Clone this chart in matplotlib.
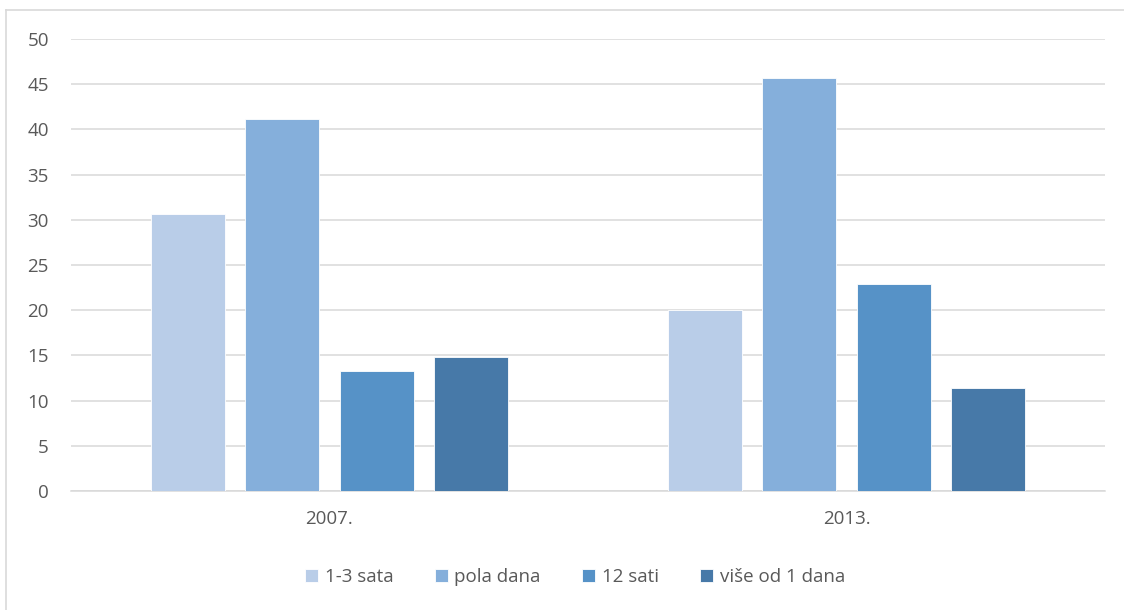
import matplotlib
matplotlib.use("Agg")
import matplotlib.pyplot as plt
import numpy as np
from matplotlib.lines import Line2D

categories = ["2007.", "2013."]
series_names = ["1-3 sata", "pola dana", "12 sati", "više od 1 dana"]
v_13_sata = [30.6, 20.0]
v_pola_dana = [41.1, 45.7]
v_12_sati = [13.3, 22.9]
v_vise = [14.8, 11.4]
yticks = [0, 5, 10, 15, 20, 25, 30, 35, 40, 45, 50]

series = [v_13_sata, v_pola_dana, v_12_sati, v_vise]
colors = ["#B9CDE8", "#85AFDB", "#5692C7", "#4779A8"]

plt.rcParams['font.family'] = ['Open Sans', 'DejaVu Sans']
txt = "#595959"

fig = plt.figure(figsize=(11.24, 6.10), dpi=100)
W, H = 1124, 610
ax = fig.add_axes([71 / W, (H - 491) / H, (1105 - 71) / W, (491 - 39) / H])

x = np.arange(len(categories))
width = 0.143
step = 0.182
for i, (vals, c, name) in enumerate(zip(series, colors, series_names)):
    ax.bar(x + (i - 1.5) * step, vals, width, color=c, label=name,
           edgecolor="white", linewidth=0.6, zorder=3)

ax.set_xlim(-0.5, 1.5)
ax.set_ylim(0, 50)
ax.set_yticks(yticks)
ax.set_xticks(x)
ax.set_xticklabels(categories)
ax.grid(axis="y", color="#D9D9D9", linewidth=1.1, zorder=0)
for s in ["top", "right", "left"]:
    ax.spines[s].set_visible(False)
ax.spines["bottom"].set_color("#D9D9D9")
ax.spines["bottom"].set_linewidth(1.1)
ax.tick_params(axis="both", length=0, colors=txt, labelsize=13.5)
ax.tick_params(axis="y", pad=16)
ax.tick_params(axis="x", pad=14)

leg = fig.legend(loc="center", bbox_to_anchor=(575 / W, (H - 577) / H), ncol=4,
                 frameon=False, fontsize=13.5, handlelength=0.7, handleheight=0.7,
                 handletextpad=0.35, columnspacing=2.2)
for t in leg.get_texts():
    t.set_color(txt)

fig.lines.append(Line2D([6.5 / W, 1], [1 - 10 / H, 1 - 10 / H], transform=fig.transFigure,
                        color="#D9D9D9", linewidth=1.2))
fig.lines.append(Line2D([6.5 / W, 6.5 / W], [0, 1 - 10 / H], transform=fig.transFigure,
                        color="#D9D9D9", linewidth=1.2))

fig.savefig("out.png", dpi=100)
